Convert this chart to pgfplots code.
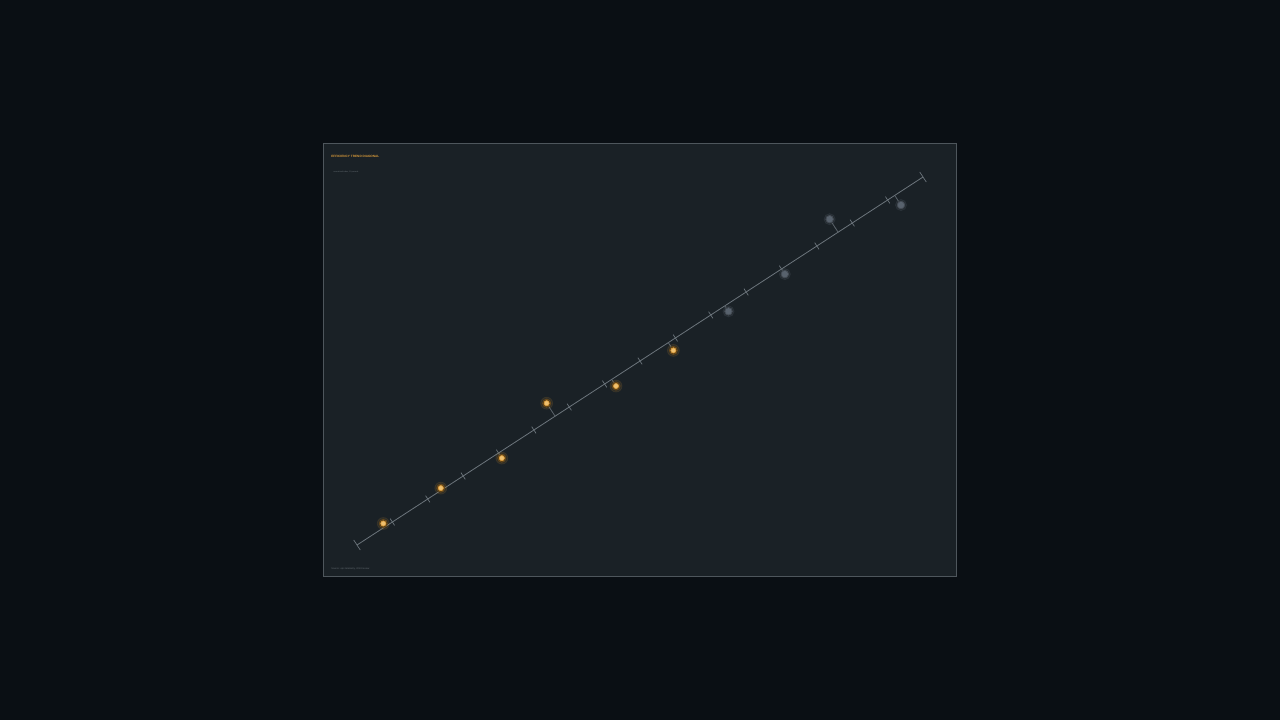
\documentclass[border=0pt]{standalone}
\usepackage{fontspec}
\setmainfont{Liberation Sans}
\usepackage{graphicx}
\usepackage{pgfplots}
\usepackage{pgfplotstable}
\pgfplotsset{compat=1.18}

\definecolor{bgdark}{HTML}{0A0F14}
\definecolor{panel}{HTML}{1A2126}
\definecolor{frame}{HTML}{4E565C}
\definecolor{trend}{HTML}{6C757C}
\definecolor{amber}{HTML}{D89A3A}
\definecolor{amberhi}{HTML}{EEC070}
\definecolor{slate}{HTML}{4E5862}
\definecolor{slatehi}{HTML}{58626D}
\definecolor{muted}{HTML}{646C72}

% position along the trend (tick units), offset from the trend (px)
\pgfplotstableread{
u d
0.8 3.7
2.4 2.0
4.0 -6.1
5.6 15.5
7.2 -7.9
8.8 -9.3
}\observed
\pgfplotstableread{
u d
10.4 -6.6
12.0 -6.1
13.6 15.5
15.2 -11.5
}\projected

\begin{document}
\begin{tikzpicture}[x=0.5pt,y=0.5pt]
% canvas and card
\fill[bgdark] (0,0) rectangle (1280,720);
\filldraw[fill=panel, draw=frame, line width=0.4pt] (323.5,143.5) rectangle (956.5,576.5);

% headings
\node[anchor=west, inner sep=0, text=amber] at (331,564)
  {\resizebox{24pt}{!}{\bfseries EFFICIENCY TREND DIAGONAL}};
\node[anchor=west, inner sep=0, text=muted] at (333,548)
  {\resizebox{12.5pt}{!}{normalized index, 10 periods}};
\node[anchor=west, inner sep=0, text=muted] at (331,151)
  {\resizebox{19pt}{!}{Source: ops telemetry, 2024 review}};

\begin{axis}[
    at={(178.5pt,87.5pt)}, anchor=origin,
    x={(17.6875pt,11.5pt)}, y={(-0.27255pt,0.4192pt)},
    xmin=0, xmax=16, ymin=-20, ymax=20,
    hide axis, clip=false,
    unbounded coords=jump,
    resid/.style={only marks, mark=none, draw=none,
      error bars/.cd, y dir=minus, y explicit,
      error mark=none,
      error bar style={trend!80!panel, line width=0.4pt}},
]
% trend line
\addplot[trend, line width=0.4pt] coordinates {(0,0) (16,0)};
% ticks across the trend
\addplot[trend, line width=0.35pt] table {
x y
0 -6
0 6
nan nan
1 -4
1 4
nan nan
2 -4
2 4
nan nan
3 -4
3 4
nan nan
4 -4
4 4
nan nan
5 -4
5 4
nan nan
6 -4
6 4
nan nan
7 -4
7 4
nan nan
8 -4
8 4
nan nan
9 -4
9 4
nan nan
10 -4
10 4
nan nan
11 -4
11 4
nan nan
12 -4
12 4
nan nan
13 -4
13 4
nan nan
14 -4
14 4
nan nan
15 -4
15 4
nan nan
16 -6
16 6
};
% residual connectors back to the trend
\addplot[resid] table[x=u, y=d, y error expr=\thisrow{d}] {\observed};
\addplot[resid] table[x=u, y=d, y error expr=\thisrow{d}] {\projected};
% observed points with glow
\addplot[only marks, mark=*, color=amber, mark size=3.0pt, opacity=0.10] table[x=u, y=d] {\observed};
\addplot[only marks, mark=*, color=amber, mark size=2.1pt, opacity=0.28] table[x=u, y=d] {\observed};
\addplot[only marks, mark=*, color=amber, mark size=1.3pt, mark options={fill=amberhi, line width=0.35pt}] table[x=u, y=d] {\observed};
% projected points
\addplot[only marks, mark=*, color=slate, mark size=2.8pt, opacity=0.20] table[x=u, y=d] {\projected};
\addplot[only marks, mark=*, color=slatehi, mark size=2.0pt, opacity=0.55] table[x=u, y=d] {\projected};
\addplot[only marks, mark=*, color=slatehi, mark size=1.4pt] table[x=u, y=d] {\projected};
\end{axis}
\end{tikzpicture}
\end{document}
